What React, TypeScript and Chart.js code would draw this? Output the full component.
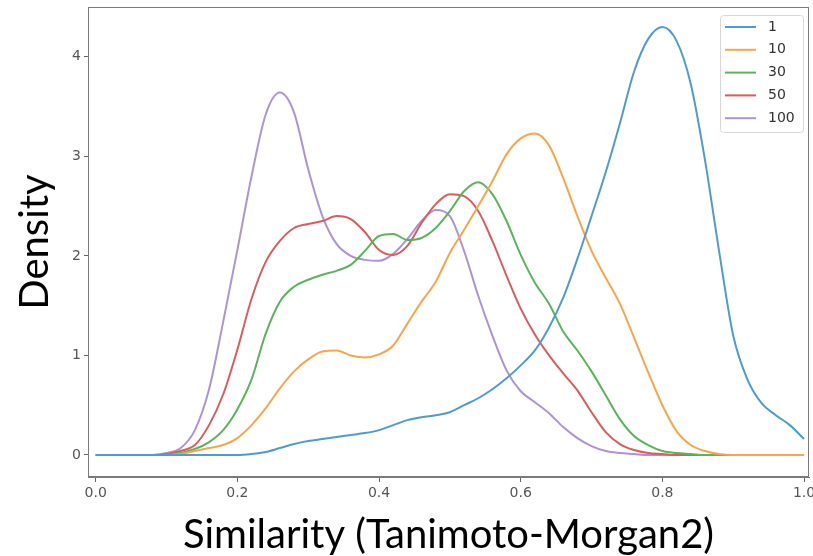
import React, { useEffect, useRef } from "react";
import { Chart, registerables } from "chart.js";

Chart.register(...registerables);

// Similarity grid (x values of the KDE samples)
const similarity = [
  0.0, 0.02, 0.04, 0.06, 0.08, 0.1, 0.12, 0.14, 0.16, 0.18,
  0.2, 0.22, 0.24, 0.26, 0.28, 0.3, 0.32, 0.34, 0.36, 0.38,
  0.4, 0.42, 0.44, 0.46, 0.48, 0.5, 0.52, 0.54, 0.56, 0.58,
  0.6, 0.62, 0.64, 0.66, 0.68, 0.7, 0.72, 0.74, 0.76, 0.78,
  0.8, 0.82, 0.84, 0.86, 0.88, 0.9, 0.92, 0.94, 0.96, 0.98, 1.0,
];

const density1 = [
  0, 0, 0, 0, 0, 0, 0, 0, 0, 0,
  0, 0.01, 0.03, 0.07, 0.11, 0.14, 0.16, 0.18, 0.2, 0.22,
  0.25, 0.3, 0.35, 0.38, 0.4, 0.43, 0.5, 0.57, 0.66, 0.77,
  0.9, 1.05, 1.28, 1.58, 1.97, 2.4, 2.84, 3.33, 3.85, 4.18,
  4.3, 4.16, 3.73, 2.97, 2.05, 1.2, 0.76, 0.52, 0.4, 0.3, 0.16,
];

const density10 = [
  0, 0, 0, 0, 0, 0, 0.01, 0.04, 0.07, 0.1,
  0.17, 0.3, 0.47, 0.67, 0.84, 0.96, 1.04, 1.05, 1.0, 0.98,
  1.01, 1.1, 1.32, 1.54, 1.74, 2.03, 2.26, 2.5, 2.75, 3.02,
  3.18, 3.23, 3.11, 2.78, 2.4, 2.05, 1.78, 1.52, 1.18, 0.83,
  0.5, 0.24, 0.1, 0.04, 0.01, 0, 0, 0, 0, 0, 0,
];

const density30 = [
  0, 0, 0, 0, 0, 0, 0.02, 0.06, 0.13, 0.25,
  0.46, 0.76, 1.22, 1.54, 1.69, 1.76, 1.81, 1.85, 1.91, 2.05,
  2.2, 2.22, 2.16, 2.18, 2.28, 2.45, 2.65, 2.74, 2.62, 2.35,
  2.01, 1.73, 1.52, 1.24, 1.05, 0.84, 0.6, 0.36, 0.19, 0.1,
  0.04, 0.02, 0.01, 0, 0, 0, 0, 0, 0, 0, 0,
];

const density50 = [
  0, 0, 0, 0, 0, 0.01, 0.04, 0.1, 0.3, 0.61,
  1.06, 1.57, 1.94, 2.15, 2.28, 2.32, 2.35, 2.4, 2.37, 2.24,
  2.06, 2.01, 2.1, 2.33, 2.52, 2.62, 2.6, 2.45, 2.15, 1.8,
  1.47, 1.21, 1.0, 0.82, 0.65, 0.43, 0.23, 0.11, 0.05, 0.02,
  0.01, 0, 0, 0, 0, 0, 0, 0, 0, 0, 0,
];

const density100 = [
  0, 0, 0, 0, 0, 0.02, 0.07, 0.25, 0.66, 1.34,
  2.06, 2.8, 3.42, 3.64, 3.44, 2.87, 2.4, 2.12, 2.0, 1.96,
  1.95, 2.02, 2.17, 2.35, 2.46, 2.4, 2.05, 1.6, 1.2, 0.85,
  0.64, 0.53, 0.42, 0.28, 0.17, 0.09, 0.04, 0.02, 0.01, 0,
  0, 0, 0, 0, 0, 0, 0, 0, 0, 0, 0,
];

const seriesLabels = ["1", "10", "30", "50", "100"];
const seriesColors = ["#4f9bd0", "#f8a54b", "#5ab45a", "#dc5b5c", "#ad93d4"];
const xTickValues = [0.0, 0.2, 0.4, 0.6, 0.8, 1.0];
const yTickValues = [0, 1, 2, 3, 4];

const framePlugin = {
  id: "frameAndLegend",
  afterDatasetsDraw(chart: any) {
    const { ctx, chartArea } = chart;
    const { left, top, right, bottom } = chartArea;
    ctx.save();
    // spines
    ctx.strokeStyle = "#7a7a7a";
    ctx.lineWidth = 1;
    ctx.strokeRect(left + 0.5, top + 0.5, right - left - 1, bottom - top - 1);

    // legend box
    const bx = right - 89;
    const by = top + 8;
    const bw = 83;
    const bh = 117;
    ctx.fillStyle = "rgba(255,255,255,0.85)";
    ctx.strokeStyle = "#d8d8d8";
    ctx.beginPath();
    (ctx as any).roundRect(bx + 0.5, by + 0.5, bw, bh, 3);
    ctx.fill();
    ctx.stroke();

    ctx.font = '14px "DejaVu Sans"';
    ctx.textBaseline = "middle";
    ctx.textAlign = "left";
    chart.data.datasets.forEach((ds: any, i: number) => {
      const y = by + 12 + i * 22.8;
      ctx.strokeStyle = ds.borderColor;
      ctx.lineWidth = 2;
      ctx.beginPath();
      ctx.moveTo(bx + 5, y);
      ctx.lineTo(bx + 36, y);
      ctx.stroke();
      ctx.fillStyle = "#333";
      ctx.fillText(ds.label, bx + 48, y);
    });
    ctx.restore();
  },
};

export default function App() {
  const canvasRef = useRef<HTMLCanvasElement | null>(null);

  useEffect(() => {
    if (!canvasRef.current) return;
    const allSeries = [density1, density10, density30, density50, density100];
    const datasets = allSeries.map((vals, i) => ({
      label: seriesLabels[i],
      data: similarity.map((x, j) => ({ x, y: vals[j] })),
      borderColor: seriesColors[i],
      backgroundColor: seriesColors[i],
      borderWidth: 2,
      pointRadius: 0,
      fill: false,
      cubicInterpolationMode: "monotone" as const,
    }));

    const chart = new Chart(canvasRef.current, {
      type: "line",
      data: { datasets },
      plugins: [framePlugin],
      options: {
        animation: false,
        responsive: false,
        maintainAspectRatio: false,
        layout: { padding: { top: 7, right: 4, left: 0, bottom: 0 } },
        plugins: {
          legend: { display: false },
          tooltip: { enabled: false },
        },
        scales: {
          x: {
            type: "linear",
            min: -0.0109,
            max: 1.007,
            afterBuildTicks: (scale: any) => {
              scale.ticks = xTickValues.map((v) => ({ value: v }));
            },
            afterFit: (scale: any) => {
              scale.height = 79;
              scale.paddingRight = 0;
              scale.paddingLeft = 0;
            },
            ticks: {
              autoSkip: false,
              maxRotation: 0,
              color: "#555",
              font: { family: "DejaVu Sans", size: 14 },
              padding: 3,
              callback: (v: any) => Number(v).toFixed(1),
            },
            grid: {
              display: true,
              drawOnChartArea: false,
              drawTicks: true,
              tickLength: 5,
              color: "#666",
            },
            border: { display: true, color: "#7a7a7a" },
            title: {
              display: true,
              text: "Similarity (Tanimoto-Morgan2)",
              color: "#000",
              font: { family: "Lato", size: 40, lineHeight: 1.0 },
              padding: { top: 0, bottom: 1 },
            },
          },
          y: {
            type: "linear",
            min: -0.221,
            max: 4.5,
            afterBuildTicks: (scale: any) => {
              scale.ticks = yTickValues.map((v) => ({ value: v }));
            },
            afterFit: (scale: any) => {
              scale.width = 88;
              scale.paddingTop = 0;
              scale.paddingBottom = 0;
            },
            ticks: {
              color: "#555",
              font: { family: "DejaVu Sans", size: 14 },
              padding: 3,
              callback: (v: any) => String(v),
            },
            grid: {
              display: true,
              drawOnChartArea: false,
              drawTicks: true,
              tickLength: 4,
              color: "#666",
            },
            border: { display: true, color: "#7a7a7a" },
            title: {
              display: true,
              text: "Density",
              color: "#000",
              font: { family: "Lato", size: 40, lineHeight: 1.0 },
              padding: { top: 15, bottom: 0 },
            },
          },
        },
      },
    });
    return () => chart.destroy();
  }, []);

  return (
    <div
      style={{
        position: "absolute",
        left: 0,
        top: 0,
        width: 813,
        height: 556,
        background: "#fff",
      }}
    >
      <canvas
        ref={canvasRef}
        width={813}
        height={556}
        style={{ display: "block", width: 813, height: 556 }}
      />
    </div>
  );
}
